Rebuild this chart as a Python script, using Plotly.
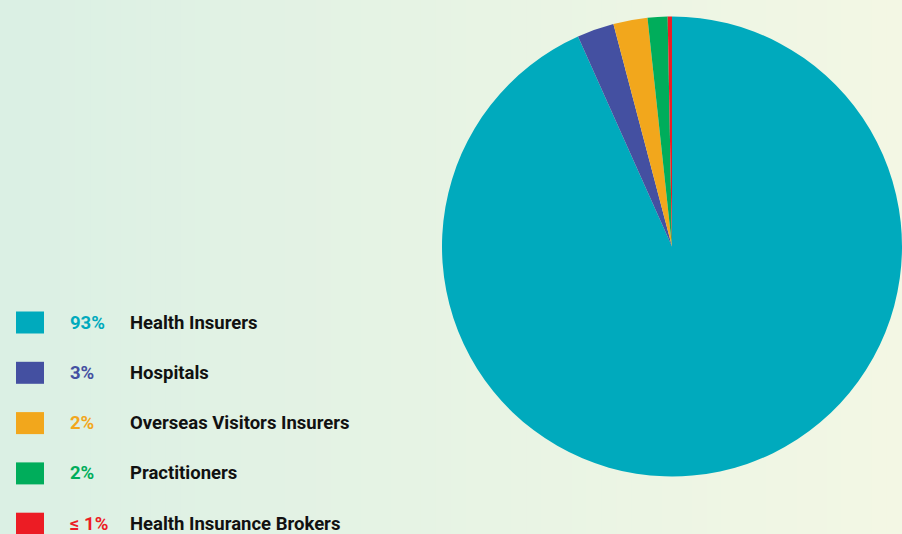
import plotly.graph_objects as go

# Share of the total by stakeholder group
categories = ["Health Insurers", "Hospitals", "Overseas Visitors Insurers",
              "Practitioners", "Health Insurance Brokers"]
shares = [93.3, 2.6, 2.4, 1.4, 0.3]
share_labels = ["93%", "3%", "2%", "2%", "≤ 1%"]
colors = ["#00aabd", "#4450a1", "#f2a71c", "#00ad5b", "#ec1c24"]

W, H = 902, 534

fig = go.Figure()

fig.add_trace(go.Pie(
    labels=categories,
    values=shares,
    sort=False,
    direction="clockwise",
    rotation=0,
    marker=dict(colors=colors, line=dict(width=0)),
    textinfo="none",
    hoverinfo="label+percent",
    showlegend=False,
    domain=dict(x=[442 / W, 1.0], y=[1 - 477 / H, 1 - 16 / H]),
))

# Soft horizontal background gradient, mint on the left to cream on the right
left_rgb = (219, 240, 228)
right_rgb = (243, 247, 228)
n_bands = 60
shapes = []
for i in range(n_bands):
    t = i / (n_bands - 1)
    c = tuple(round(a + (b - a) * t) for a, b in zip(left_rgb, right_rgb))
    shapes.append(dict(
        type="rect", xref="paper", yref="paper", layer="below",
        x0=i / n_bands, x1=(i + 1) / n_bands + 0.002, y0=0, y1=1,
        fillcolor=f"rgb{c}", line=dict(width=0),
    ))

# Legend: colour swatch, share and name on each row
annotations = []
row_top = 322.5
row_step = 50.3
for i, (name, lab, col) in enumerate(zip(categories, share_labels, colors)):
    yc = row_top + i * row_step
    shapes.append(dict(
        type="rect", xref="paper", yref="paper", layer="above",
        x0=16 / W, x1=44 / W, y0=1 - (yc + 11) / H, y1=1 - (yc - 11) / H,
        fillcolor=col, line=dict(width=0),
    ))
    annotations.append(dict(
        xref="paper", yref="paper", x=68 / W, y=1 - yc / H,
        xanchor="left", yanchor="middle", showarrow=False,
        text=f"<b>{lab}</b>",
        font=dict(family="Roboto", size=18.5, color=col),
    ))
    annotations.append(dict(
        xref="paper", yref="paper", x=128 / W, y=1 - yc / H,
        xanchor="left", yanchor="middle", showarrow=False,
        text=f"<b>{name}</b>",
        font=dict(family="Roboto", size=18.5, color="#111111"),
    ))

fig.update_layout(
    width=W, height=H,
    margin=dict(l=0, r=0, t=0, b=0),
    paper_bgcolor="#eaf4e4",
    plot_bgcolor="rgba(0,0,0,0)",
    shapes=shapes,
    annotations=annotations,
    showlegend=False,
)

fig.write_html("out.html", config=dict(displayModeBar=False))
